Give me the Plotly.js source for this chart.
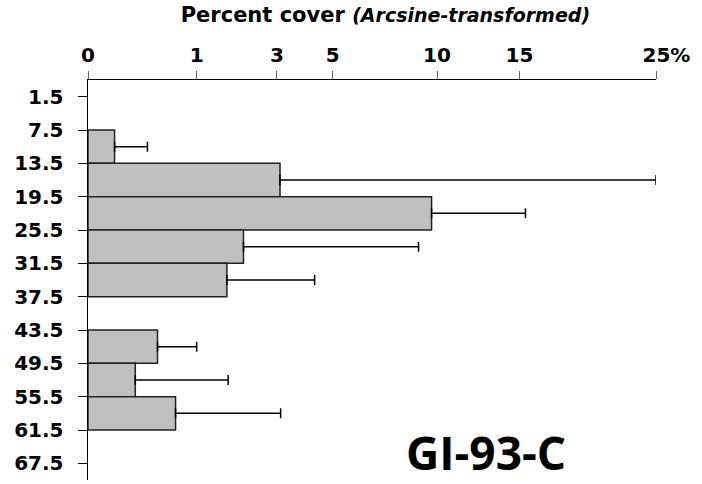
<!DOCTYPE html>
<html>
<head>
<meta charset="utf-8">
<script src="https://cdn.plot.ly/plotly-3.0.1.min.js"></script>
<style>html,body{margin:0;padding:0;background:#fff;}#chart{width:702px;height:484px;}</style>
</head>
<body>
<div id="chart"></div>
<script>
// Depth classes (category labels, top of each 6-unit interval)
const depthLabels = ['1.5','7.5','13.5','19.5','25.5','31.5','37.5','43.5','49.5','55.5','61.5','67.5'];
// Mean percent cover per depth interval (null = no cover)
const coverPct = [null, 0.06, 3.1, 9.7, 2.04, 1.63, null, 0.41, 0.19, 0.65, null, null];
// Upper end of error bar (percent cover)
const upperPct = [null, 0.30, 25.0, 15.4, 9.0, 4.3, null, 1.0, 1.66, 3.12, null, null];
// Axis ticks (percent cover) and their labels
const tickPct = [0, 1, 3, 5, 10, 15, 25];
const tickText = ['0', '1', '3', '5', '10', '15', '\u00a0\u00a0\u00a025%'];

const asinT = p => (p === null ? null : Math.asin(Math.sqrt(p / 100)));

const xVals = coverPct.map(asinT);
const errPlus = coverPct.map((p, i) => (p === null ? null : asinT(upperPct[i]) - asinT(p)));
const errMinus = coverPct.map(p => (p === null ? null : 0));

const trace = {
  type: 'bar',
  orientation: 'h',
  y: depthLabels,
  x: xVals,
  width: 1,
  offset: 0,
  cliponaxis: false,
  marker: { color: '#c0c0c0', line: { color: '#222222', width: 1.5 } },
  error_x: {
    type: 'data', symmetric: false, array: errPlus, arrayminus: errMinus,
    color: '#000000', thickness: 1.5, width: 5
  },
  hoverinfo: 'x+y'
};

const layout = {
  width: 702, height: 484,
  margin: { l: 88, r: 46, t: 80, b: 4, pad: 0 },
  paper_bgcolor: '#ffffff', plot_bgcolor: '#ffffff',
  showlegend: false,
  bargap: 0,
  font: { family: 'DejaVu Sans', color: '#000000' },
  title: {
    text: 'Percent cover <span style="font-size:19px"><i>(Arcsine-transformed)</i></span>',
    font: { family: 'DejaVu Sans', size: 21, color: '#000000', weight: 'bold' },
    x: 0.549, xanchor: 'center', xref: 'container',
    y: 0.969, yanchor: 'middle', yref: 'container'
  },
  xaxis: {
    side: 'top',
    range: [0, asinT(25)],
    tickmode: 'array',
    tickvals: tickPct.map(asinT),
    ticktext: tickText,
    ticks: 'outside', ticklen: 8, tickwidth: 1, tickcolor: '#666666',
    showline: true, linecolor: '#000000', linewidth: 1.5,
    showgrid: false, zeroline: false,
    ticklabelstandoff: 1,
    tickfont: { family: 'DejaVu Sans', size: 20, color: '#000000', weight: 'bold' },
    fixedrange: true
  },
  yaxis: {
    type: 'category',
    categoryorder: 'array',
    categoryarray: depthLabels,
    range: [11.5, -0.5],
    ticks: 'outside', ticklen: 9, tickwidth: 1, tickcolor: '#000000',
    showline: true, linecolor: '#000000', linewidth: 1.5,
    showgrid: false, zeroline: false,
    ticklabelstandoff: 10,
    tickfont: { family: 'DejaVu Sans', size: 20, color: '#000000', weight: 'bold' },
    fixedrange: true
  },
  annotations: [{
    text: 'GI-93-C',
    xref: 'paper', yref: 'paper',
    x: 0.70, y: 0, xanchor: 'center', yanchor: 'bottom', yshift: -4,
    showarrow: false, borderpad: 0,
    font: { family: 'Open Sans', size: 46, color: '#000000', weight: 'bold' }
  }]
};

Plotly.newPlot('chart', [trace], layout, { displayModeBar: false, staticPlot: true });
</script>
</body>
</html>
